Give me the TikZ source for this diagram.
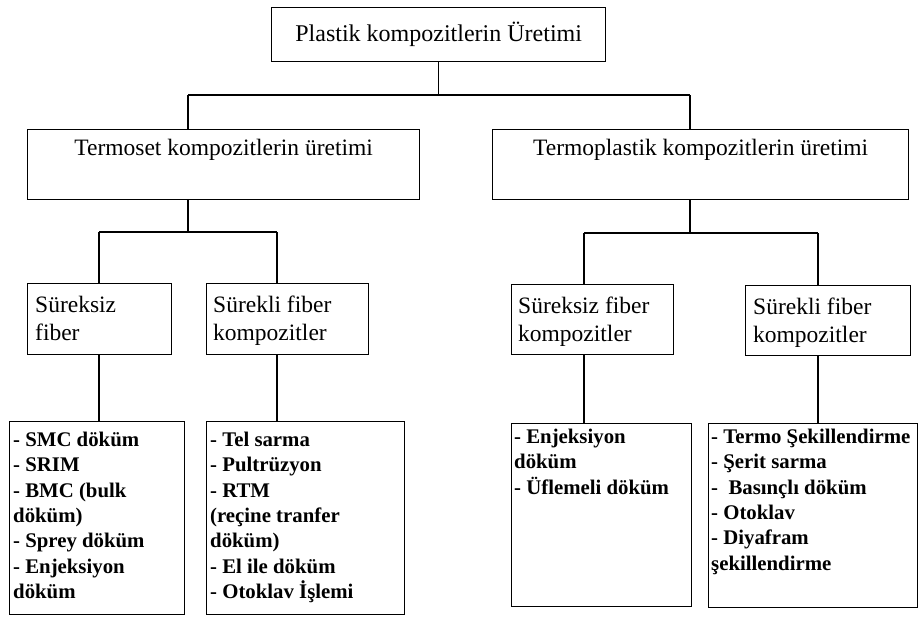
\documentclass[tikz,border=0pt]{standalone}
\usepackage{fontspec}
\setmainfont{Liberation Serif}
\usetikzlibrary{calc}
\begin{document}
\begin{tikzpicture}[x=1pt,y=-1pt,
  boxnode/.style={draw, line width=1.3pt, inner sep=0pt, anchor=north west},
  wire/.style={line width=1.1pt},
  listtext/.style={anchor=north west, inner sep=0pt, align=left, font=\fontsize{20.8}{25.3}\selectfont\bfseries},
  subtext/.style={anchor=north west, inner sep=0pt, align=left, font=\fontsize{23.5}{28}\selectfont},
  headtext/.style={anchor=base, inner sep=0pt, font=\fontsize{23.5}{28}\selectfont}]
\useasboundingbox (0,0) rectangle (918,616);
% level 1
\node[boxnode, minimum width=334pt, minimum height=54pt, font=\fontsize{24}{28}\selectfont] (top) at (271,7) {Plastik kompozitlerin Üretimi};
% level 2
\node[boxnode, minimum width=392pt, minimum height=70pt] (L2L) at (27,129) {};
\node[headtext] (L2Ltext) at ($(L2L.north)+(0,26)$) {Termoset kompozitlerin üretimi};
\node[boxnode, minimum width=416pt, minimum height=70pt] (L2R) at (492,129) {};
\node[headtext] (L2Rtext) at ($(L2R.north)+(0,26)$) {Termoplastik kompozitlerin üretimi};
% level 3
\node[boxnode, minimum width=144pt, minimum height=71pt] (A) at (27,283) {};
\node[subtext] (Atext) at ($(A.north west)+(8,13)$) {Süreksiz\\fiber};
\node[boxnode, minimum width=162pt, minimum height=71pt] (B) at (206,283) {};
\node[subtext] (Btext) at ($(B.north west)+(7,13)$) {Sürekli fiber\\kompozitler};
\node[boxnode, minimum width=162pt, minimum height=70pt] (C) at (511,284) {};
\node[subtext] (Ctext) at ($(C.north west)+(7,13)$) {Süreksiz fiber\\kompozitler};
\node[boxnode, minimum width=165pt, minimum height=70pt] (D) at (745,285) {};
\node[subtext] (Dtext) at ($(D.north west)+(8,13)$) {Sürekli fiber\\kompozitler};
% level 4
\node[boxnode, minimum width=175pt, minimum height=193pt] (P1) at (9,421) {};
\node[listtext] (P1text) at ($(P1.north west)+(4,11)$) {- SMC döküm\\- SRIM\\- BMC (bulk\\döküm)\\- Sprey döküm\\- Enjeksiyon\\döküm};
\node[boxnode, minimum width=198pt, minimum height=193pt] (P2) at (206,421) {};
\node[listtext] (P2text) at ($(P2.north west)+(4,11)$) {- Tel sarma\\- Pultrüzyon\\- RTM\\(reçine tranfer\\döküm)\\- El ile döküm\\- Otoklav İşlemi};
\node[boxnode, minimum width=180pt, minimum height=183pt] (P3) at (511,423) {};
\node[listtext] (P3text) at ($(P3.north west)+(3,6)$) {- Enjeksiyon\\döküm\\- Üflemeli döküm};
\node[boxnode, minimum width=209pt, minimum height=184pt] (P4) at (708,423) {};
\node[listtext] (P4text) at ($(P4.north west)+(3,6)$) {- Termo Şekillendirme\\- Şerit sarma\\-~ Basınçlı döküm\\- Otoklav\\- Diyafram\\şekillendirme};
% connectors
\coordinate (tL) at (188,95);
\coordinate (tR) at (690,95);
\draw[wire] (top.south) -- (top.south |- tL);
\draw[wire] (tL) -- (tR);
\draw[wire] (tL) -- (tL |- L2L.north);
\draw[wire] (tR) -- (tR |- L2R.north);
\coordinate (lL) at (99,232);
\coordinate (lR) at (277,232);
\draw[wire] (tL |- L2L.south) -- (tL |- lL);
\draw[wire] (lL) -- (lR);
\draw[wire] (lL) -- (lL |- A.north);
\draw[wire] (lR) -- (lR |- B.north);
\coordinate (rL) at (584,233);
\coordinate (rR) at (818,233);
\draw[wire] (tR |- L2R.south) -- (tR |- rL);
\draw[wire] (rL) -- (rR);
\draw[wire] (rL) -- (rL |- C.north);
\draw[wire] (rR) -- (rR |- D.north);
\draw[wire] (lL |- A.south) -- (lL |- P1.north);
\draw[wire] (lR |- B.south) -- (lR |- P2.north);
\draw[wire] (rL |- C.south) -- (rL |- P3.north);
\draw[wire] (rR |- D.south) -- (rR |- P4.north);
\end{tikzpicture}
\end{document}
